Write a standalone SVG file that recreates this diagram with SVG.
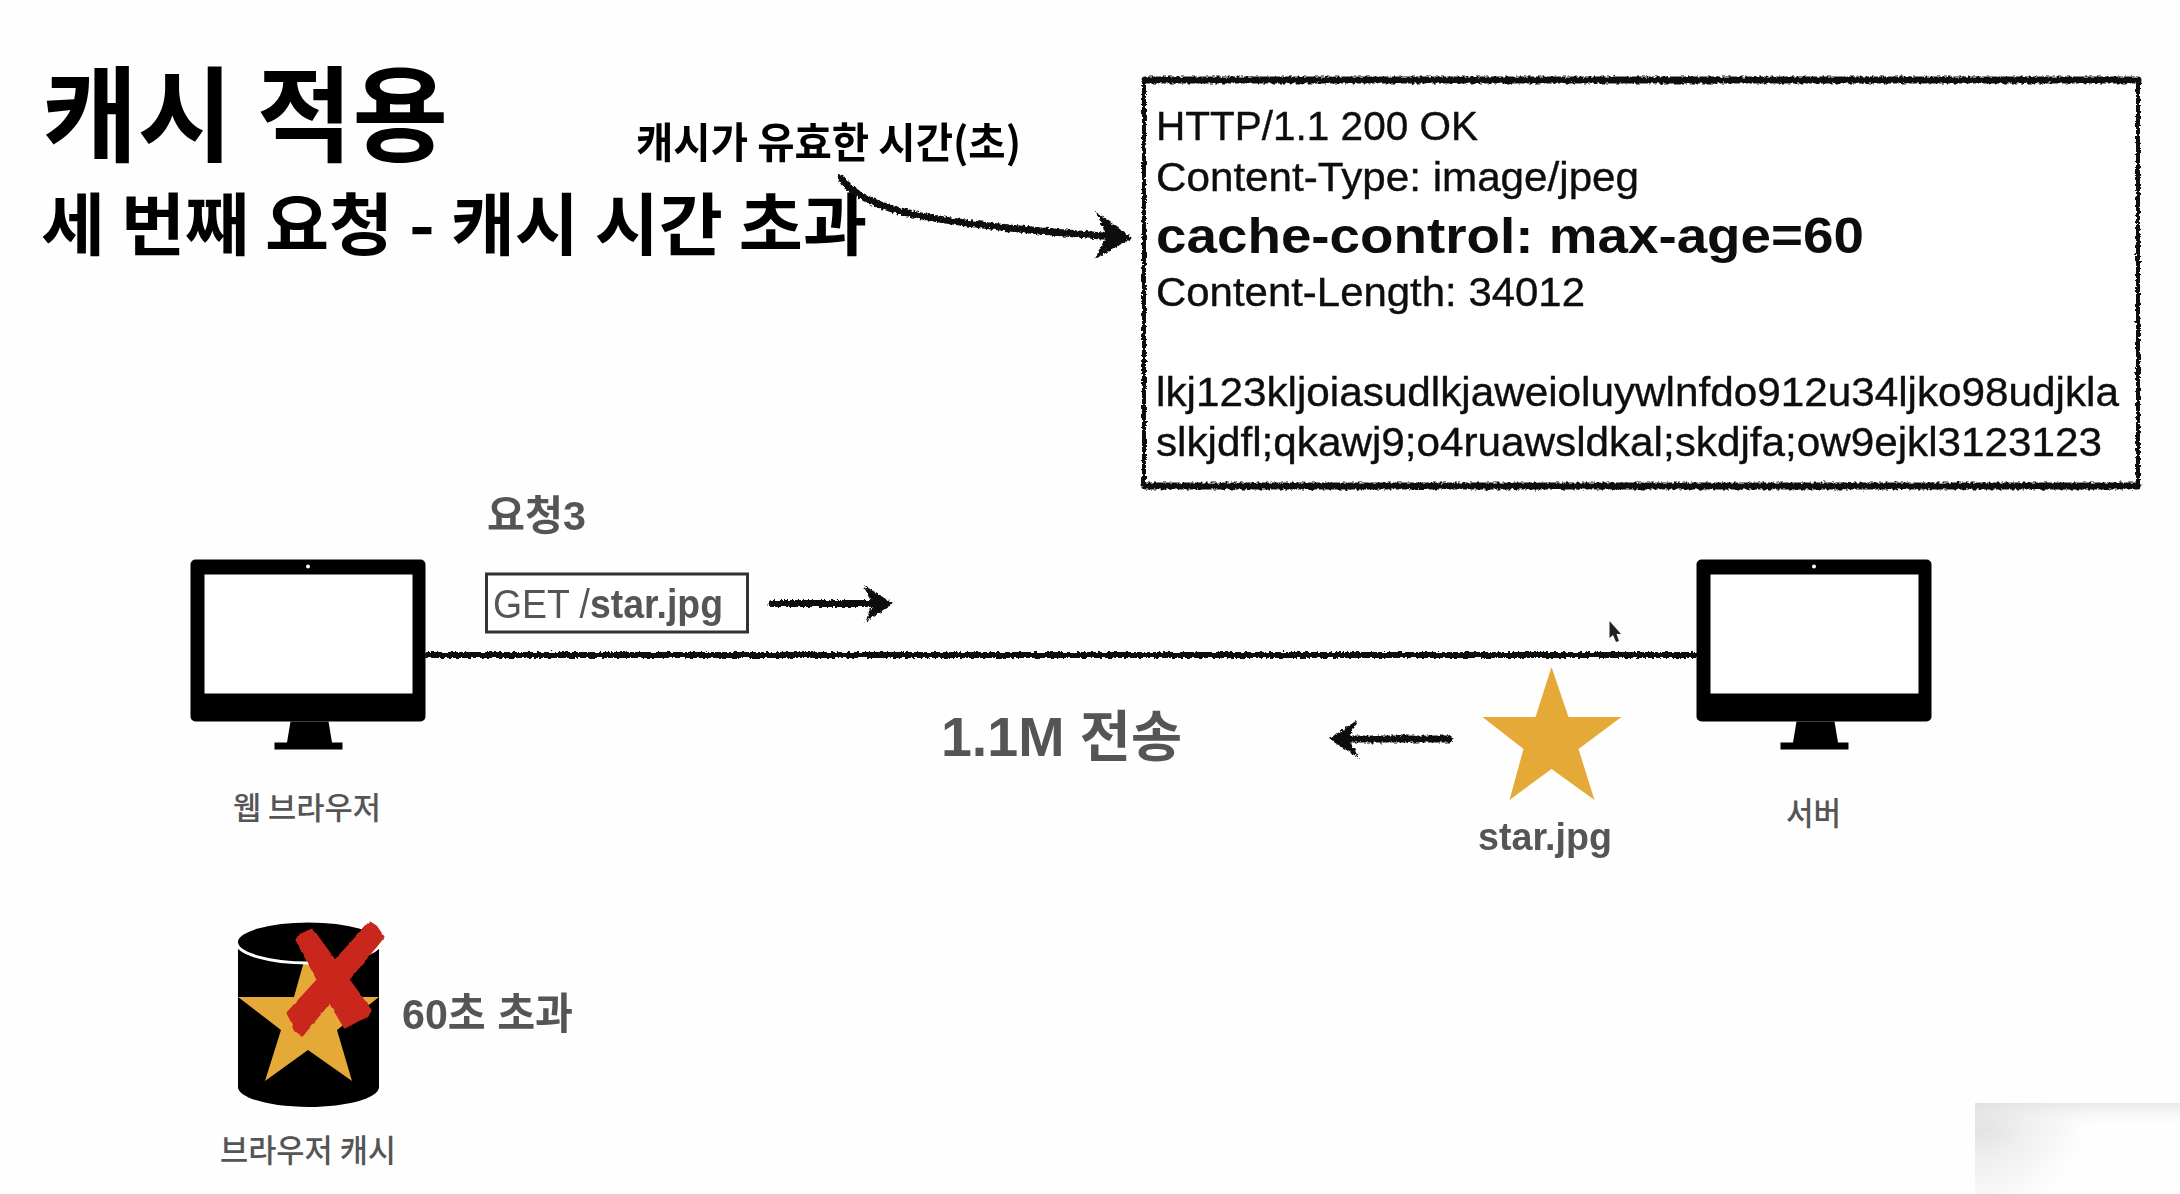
<svg xmlns="http://www.w3.org/2000/svg" width="2180" height="1194" viewBox="0 0 2180 1194">
<style>
text{font-family:"Liberation Sans","Noto Sans CJK KR",sans-serif;}
.ko{font-family:"Noto Sans CJK KR","Liberation Sans",sans-serif;}
.t{fill:#000;font-weight:700;}
.g{fill:#555;font-weight:700;}
.gl{fill:#555;font-weight:500;}
.h{fill:#111;font-size:40px;stroke:#111;stroke-width:0.4px;}
.ink{fill:none;stroke:#111;stroke-linecap:round;filter:url(#rough);}
.soft{filter:url(#soft);}
.star{fill:#e5a937;}
.red{fill:#c9281f;stroke:#c9281f;stroke-width:3px;stroke-linejoin:round;filter:url(#roughRed);}
</style>
<defs>
<filter id="rough" filterUnits="userSpaceOnUse" x="0" y="0" width="2180" height="1194">
<feTurbulence type="fractalNoise" baseFrequency="0.35" numOctaves="2" seed="4" result="n"/>
<feDisplacementMap in="SourceGraphic" in2="n" scale="5" xChannelSelector="R" yChannelSelector="G"/>
</filter>
<filter id="roughRed" filterUnits="userSpaceOnUse" x="0" y="0" width="2180" height="1194">
<feTurbulence type="fractalNoise" baseFrequency="0.1" numOctaves="2" seed="7" result="n"/>
<feDisplacementMap in="SourceGraphic" in2="n" scale="2.500" xChannelSelector="R" yChannelSelector="G"/>
</filter>
<filter id="soft" filterUnits="userSpaceOnUse" x="0" y="0" width="2180" height="1194">
<feGaussianBlur stdDeviation="0.6"/>
</filter>
<marker id="headL" viewBox="0 0 40 48" refX="26" refY="24" markerUnits="userSpaceOnUse" markerWidth="40" markerHeight="49" orient="auto">
<path d="M2,0 L40,24 L4,48 L15,24 Z" fill="#111"/>
</marker>
<marker id="headS" viewBox="0 0 40 48" refX="26" refY="24" markerUnits="userSpaceOnUse" markerWidth="32" markerHeight="38" orient="auto">
<path d="M2,0 L40,24 L4,48 L15,24 Z" fill="#111"/>
</marker>
<g id="monitor">
<rect x="0" y="0" width="235" height="162" rx="5" fill="#000"/>
<rect x="14" y="15" width="208" height="119" fill="#fff"/>
<circle cx="117.500" cy="7" r="2" fill="#fff"/>
<path d="M100,162 H138 L141.500,183 H152 V190 H84 V183 H96.500 Z" fill="#000"/>
</g>
<radialGradient id="corner" gradientUnits="userSpaceOnUse" cx="1975" cy="1103" r="115">
<stop offset="0" stop-color="#d8d8d8"/>
<stop offset="0.5" stop-color="#efefef"/>
<stop offset="1" stop-color="#fefefe"/>
</radialGradient>
<linearGradient id="cornerTop" gradientUnits="userSpaceOnUse" x1="0" y1="1103" x2="0" y2="1130">
<stop offset="0" stop-color="#e4e4e4" stop-opacity="0.8"/>
<stop offset="1" stop-color="#fff" stop-opacity="0"/>
</linearGradient>
</defs>

<rect x="0" y="0" width="2180" height="1194" fill="#fefefe"/>
<g id="screen-corner">
<rect x="1975" y="1103" width="205" height="91" fill="url(#corner)"/>
<rect x="1975" y="1103" width="205" height="27" fill="url(#cornerTop)"/>
</g>

<g id="title" class="soft">
<text class="ko t" x="42" y="154" font-size="104" textLength="406" lengthAdjust="spacingAndGlyphs">캐시 적용</text>
<text class="ko t" x="41" y="250" font-size="68" textLength="826" lengthAdjust="spacingAndGlyphs">세 번째 요청 - 캐시 시간 초과</text>
</g>

<g id="ttl-label" class="soft">
<text class="ko t" x="636" y="158" font-size="42" font-weight="500" textLength="385" lengthAdjust="spacingAndGlyphs">캐시가 유효한 시간(초)</text>
</g>

<g id="response-box">
<rect x="1144" y="80" width="994" height="406" fill="#fff" stroke="#111" stroke-width="4" filter="url(#rough)"/>
<path class="ink" d="M1145,80 H2138 M1145,486 H2138" stroke-width="7"/>
<g class="soft">
<text class="h" x="1156" y="140" textLength="322" lengthAdjust="spacingAndGlyphs">HTTP/1.1 200 OK</text>
<text class="h" x="1156" y="191" textLength="483" lengthAdjust="spacingAndGlyphs">Content-Type: image/jpeg</text>
<text x="1156" y="253" font-size="50" font-weight="700" fill="#111" textLength="708" lengthAdjust="spacingAndGlyphs">cache-control: max-age=60</text>
<text class="h" x="1156" y="306" textLength="429" lengthAdjust="spacingAndGlyphs">Content-Length: 34012</text>
<text class="h" x="1156" y="406" textLength="963" lengthAdjust="spacingAndGlyphs">lkj123kljoiasudlkjaweioluywlnfdo912u34ljko98udjkla</text>
<text class="h" x="1156" y="456" textLength="946" lengthAdjust="spacingAndGlyphs">slkjdfl;qkawj9;o4ruawsldkal;skdjfa;ow9ejkl3123123</text>
</g>
</g>

<g id="connectors">
<path class="ink" d="M428,655 H1697" stroke-width="6"/>
<path class="ink" d="M841,178 C866,212 930,224 1118,237" stroke-width="7" marker-end="url(#headL)"/>
<path class="ink" d="M772,603.500 H882" stroke-width="7" marker-end="url(#headS)"/>
<path class="ink" d="M1449,739 H1340" stroke-width="7" marker-end="url(#headS)"/>
</g>

<g id="web-browser">
<use href="#monitor" x="190.500" y="559.500"/>
<text class="ko gl" x="233" y="819" font-size="31" textLength="148" lengthAdjust="spacingAndGlyphs">웹 브라우저</text>
</g>

<g id="request-label" class="soft">
<text class="g" x="487" y="530" font-size="41" textLength="99" lengthAdjust="spacingAndGlyphs">요청3</text>
</g>

<g id="request-box">
<rect x="486.500" y="574" width="261" height="58" fill="#fff" stroke="#333" stroke-width="3"/>
<text class="soft" x="493" y="618" font-size="41" fill="#555" textLength="230" lengthAdjust="spacingAndGlyphs">GET /<tspan font-weight="700">star.jpg</tspan></text>
</g>

<g id="server">
<use href="#monitor" x="1696.500" y="559.500"/>
<text class="ko gl" x="1786" y="825" font-size="32" textLength="55" lengthAdjust="spacingAndGlyphs">서버</text>
</g>

<g id="transfer-label" class="soft">
<text class="g" x="941" y="756" font-size="55" textLength="241" lengthAdjust="spacingAndGlyphs">1.1M 전송</text>
</g>

<g id="star">
<polygon class="star" points="1551.500,667 1568.500,717 1621.500,717 1578.500,749 1594.500,800 1551.500,769 1509.500,800 1523.500,749 1482.500,717 1535.500,717"/>
<text class="g soft" x="1478" y="850" font-size="39" textLength="134" lengthAdjust="spacingAndGlyphs">star.jpg</text>
</g>

<g id="cursor">
<path d="M1609.500,621 L1621,634 L1616.500,634 L1619,641 L1616,642 L1613,635 L1609.500,638 Z" fill="#222"/>
</g>

<g id="browser-cache">
<path d="M238,942 V1087 C238,1098 270,1107 308.500,1107 C347,1107 379,1098 379,1087 V942 Z" fill="#000"/>
<polygon class="star" points="308,947 323,997 379,997 337,1030 352,1081 308,1050 265,1081 281,1030 238,997 294,997"/>
<ellipse cx="308.500" cy="942" rx="72" ry="21" fill="#000" stroke="#fff" stroke-width="3"/>
<polygon class="red" points="297,940 303,934 312,930 370,1010 367,1016 358,1020 345,1027 329,1000"/>
<polygon class="red" points="370,923 376,927 383,937 302,1035 295,1030 292,1021 288,1013"/>
<text class="ko gl" x="220" y="1162" font-size="32" textLength="176" lengthAdjust="spacingAndGlyphs">브라우저 캐시</text>
</g>

<g id="expired-label" class="soft">
<text class="g" x="402" y="1029" font-size="43" textLength="171" lengthAdjust="spacingAndGlyphs">60초 초과</text>
</g>
</svg>
